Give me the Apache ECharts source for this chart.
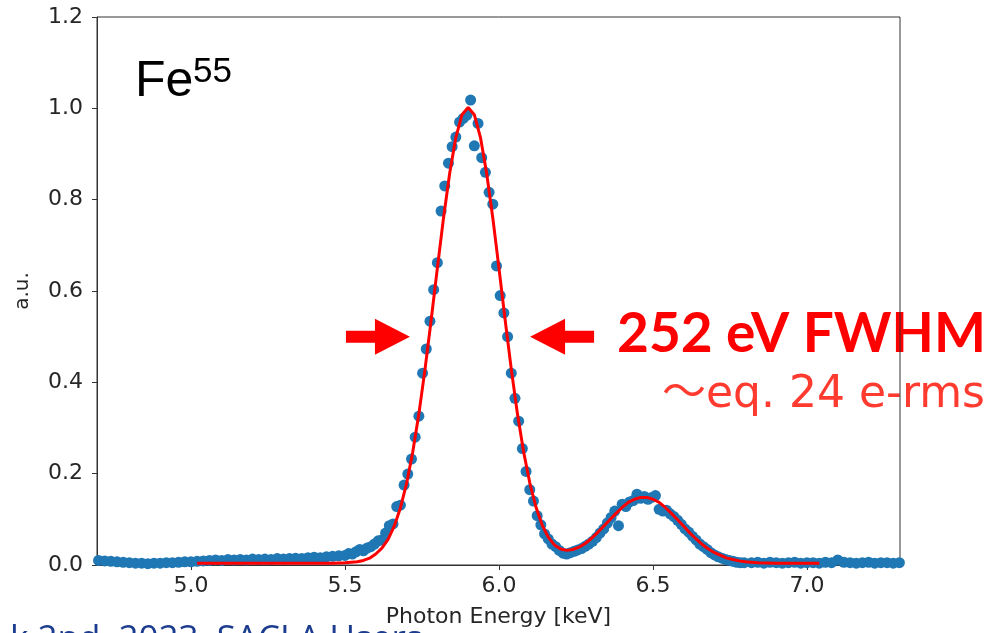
<!DOCTYPE html>
<html>
<head>
<meta charset="utf-8">
<script src="https://cdn.jsdelivr.net/npm/echarts@6/dist/echarts.min.js"></script>
<style>
  html, body { margin: 0; padding: 0; background: #ffffff; }
  #chart { width: 998px; height: 633px; }
</style>
</head>
<body>
<div id="chart"></div>
<script>
// Measured Fe-55 spectrum: photon energy [keV] and normalised counts [a.u.]
const measuredEnergy = [
  4.70, 4.72, 4.74, 4.76, 4.78, 4.80, 4.82, 4.84, 4.86, 4.88,
  4.90, 4.92, 4.94, 4.96, 4.98, 5.00, 5.02, 5.04, 5.06, 5.08,
  5.10, 5.12, 5.14, 5.16, 5.18, 5.20, 5.22, 5.24, 5.26, 5.28,
  5.30, 5.32, 5.34, 5.36, 5.38, 5.40, 5.42, 5.44, 5.46, 5.48,
  5.500, 5.512, 5.524, 5.536, 5.548, 5.560, 5.572, 5.584, 5.596, 5.608,
  5.620, 5.632, 5.644, 5.656, 5.668, 5.680, 5.692, 5.704, 5.716, 5.728,
  5.740, 5.752, 5.764, 5.776, 5.788, 5.800, 5.812, 5.824, 5.836, 5.848,
  5.860, 5.872, 5.884, 5.896, 5.908, 5.920, 5.932, 5.944, 5.956, 5.968,
  5.980, 5.992, 6.004, 6.016, 6.028, 6.040, 6.052, 6.064, 6.076, 6.088,
  6.100, 6.112, 6.124, 6.136, 6.148, 6.160, 6.172, 6.184, 6.196, 6.208,
  6.220, 6.232, 6.244, 6.256, 6.268, 6.280, 6.292, 6.304, 6.316, 6.328,
  6.340, 6.352, 6.364, 6.376, 6.388, 6.400, 6.412, 6.424, 6.436, 6.448,
  6.460, 6.472, 6.484, 6.496, 6.508, 6.520, 6.532, 6.544, 6.556, 6.568,
  6.580, 6.592, 6.604, 6.616, 6.628, 6.640, 6.652, 6.664, 6.676, 6.688,
  6.700, 6.712, 6.724, 6.736, 6.748, 6.760, 6.772, 6.784, 6.796,
  6.82, 6.84, 6.86, 6.88, 6.90, 6.92, 6.94, 6.96, 6.98, 7.00,
  7.02, 7.04, 7.06, 7.08, 7.10, 7.12, 7.14, 7.16, 7.18, 7.20,
  7.22, 7.24, 7.26, 7.28, 7.30
];
const measuredCounts = [
  0.010, 0.009, 0.008, 0.007, 0.006, 0.005, 0.004, 0.004, 0.003, 0.004,
  0.004, 0.005, 0.005, 0.006, 0.007, 0.007, 0.008, 0.009, 0.010, 0.011,
  0.010, 0.012, 0.011, 0.012, 0.011, 0.013, 0.012, 0.013, 0.012, 0.014,
  0.013, 0.014, 0.015, 0.014, 0.016, 0.017, 0.016, 0.018, 0.019, 0.020,
  0.021, 0.025, 0.024, 0.029, 0.034, 0.031, 0.037, 0.040, 0.046, 0.053,
  0.055, 0.070, 0.086, 0.090, 0.128, 0.131, 0.175, 0.199, 0.232, 0.280,
  0.326, 0.420, 0.473, 0.534, 0.603, 0.662, 0.775, 0.830, 0.880, 0.916,
  0.937, 0.970, 0.978, 0.985, 1.018, 0.918, 0.967, 0.892, 0.860, 0.816,
  0.790, 0.655, 0.590, 0.552, 0.500, 0.420, 0.365, 0.315, 0.255, 0.205,
  0.165, 0.140, 0.108, 0.088, 0.068, 0.057, 0.046, 0.040, 0.032, 0.026,
  0.024, 0.027, 0.030, 0.033, 0.036, 0.041, 0.046, 0.052, 0.060, 0.070,
  0.079, 0.092, 0.104, 0.118, 0.086, 0.133, 0.128, 0.138, 0.141, 0.155,
  0.146, 0.150, 0.144, 0.148, 0.152, 0.122, 0.118, 0.120, 0.112, 0.106,
  0.098, 0.089, 0.079, 0.072, 0.063, 0.055, 0.046, 0.040, 0.034, 0.027,
  0.022, 0.018, 0.015, 0.012, 0.010, 0.008, 0.006, 0.005, 0.005,
  0.005, 0.006, 0.004, 0.006, 0.005, 0.004, 0.005, 0.006, 0.004, 0.005,
  0.005, 0.004, 0.006, 0.005, 0.011, 0.006, 0.005, 0.004, 0.005, 0.006,
  0.004, 0.005, 0.005, 0.004, 0.005
];

// Two-Gaussian fit (Mn K-alpha + K-beta)
const fitEnergy = [
  5.02, 5.10, 5.20, 5.30, 5.40, 5.46,
  5.50, 5.52, 5.54, 5.56, 5.58, 5.60, 5.62, 5.64, 5.66, 5.68,
  5.70, 5.72, 5.74, 5.76, 5.78, 5.80, 5.82, 5.84, 5.86, 5.88,
  5.90, 5.92, 5.94, 5.96, 5.98, 6.00, 6.02, 6.04, 6.06, 6.08,
  6.10, 6.12, 6.14, 6.16, 6.18, 6.20, 6.22, 6.24, 6.26, 6.28,
  6.30, 6.32, 6.34, 6.36, 6.38, 6.40, 6.42, 6.44, 6.46, 6.48,
  6.50, 6.52, 6.54, 6.56, 6.58, 6.60, 6.62, 6.64, 6.66, 6.68,
  6.70, 6.72, 6.74, 6.76, 6.78, 6.80, 6.84, 6.90, 6.96, 7.04
];
const fitCounts = [
  0.004, 0.004, 0.004, 0.004, 0.004, 0.004,
  0.005, 0.006, 0.007, 0.010, 0.015, 0.024, 0.037, 0.056, 0.085, 0.125,
  0.178, 0.247, 0.331, 0.429, 0.537, 0.650, 0.760, 0.858, 0.936, 0.986,
  1.002, 0.986, 0.936, 0.858, 0.760, 0.650, 0.537, 0.429, 0.331, 0.248,
  0.180, 0.127, 0.088, 0.061, 0.044, 0.035, 0.032, 0.034, 0.039, 0.047,
  0.058, 0.071, 0.085, 0.099, 0.113, 0.126, 0.137, 0.144, 0.148, 0.148,
  0.144, 0.137, 0.126, 0.113, 0.099, 0.085, 0.070, 0.057, 0.045, 0.035,
  0.027, 0.021, 0.015, 0.012, 0.009, 0.007, 0.005, 0.004, 0.004, 0.004
];

const xTickValues = [5.0, 5.5, 6.0, 6.5, 7.0];
const yTickValues = [0.0, 0.2, 0.4, 0.6, 0.8, 1.0, 1.2];

// Half-maximum level and the energies where the FWHM arrows point
const halfMaximum = 0.5;
const fwhmArrowTips = [5.711, 6.101];

const chart = echarts.init(document.getElementById('chart'), null, { renderer: 'canvas' });

const axisColor = '#333333';
const labelColor = '#262626';
const tickFont = 'DejaVu Sans';

const option = {
  backgroundColor: '#ffffff',
  animation: false,
  grid: {
    left: 97, right: 98, top: 17, bottom: 66,
    show: true, borderColor: axisColor, borderWidth: 1,
    backgroundColor: 'transparent'
  },
  xAxis: {
    type: 'value',
    min: 4.695, max: 7.302,
    name: 'Photon Energy [keV]',
    nameLocation: 'middle',
    nameGap: 41,
    nameTextStyle: { fontFamily: tickFont, fontSize: 22, color: labelColor },
    axisLine: { show: true, onZero: false, lineStyle: { color: axisColor, width: 1 } },
    axisTick: { show: true, inside: false, length: 5, customValues: xTickValues,
                lineStyle: { color: axisColor, width: 1 } },
    axisLabel: { customValues: xTickValues, margin: 10, fontFamily: tickFont, fontSize: 22,
                 color: labelColor, formatter: v => v.toFixed(1) },
    splitLine: { show: false }
  },
  yAxis: {
    type: 'value',
    min: 0, max: 1.2, interval: 0.2,
    name: 'a.u.',
    nameLocation: 'middle',
    nameGap: 64,
    nameTextStyle: { fontFamily: tickFont, fontSize: 20, color: labelColor },
    axisLine: { show: true, onZero: false, lineStyle: { color: axisColor, width: 1 } },
    axisTick: { show: true, inside: false, length: 5, lineStyle: { color: axisColor, width: 1 } },
    axisLabel: { margin: 14, fontFamily: tickFont, fontSize: 22, color: labelColor,
                 formatter: v => v.toFixed(1) },
    splitLine: { show: false }
  },
  series: [
    {
      name: 'data',
      type: 'scatter',
      data: measuredEnergy.map((e, i) => [e, measuredCounts[i]]),
      symbol: 'circle',
      symbolSize: 11,
      itemStyle: { color: '#1f77b4', opacity: 1 },
      z: 2
    },
    {
      name: 'fit',
      type: 'line',
      data: fitEnergy.map((e, i) => [e, fitCounts[i]]),
      showSymbol: false,
      symbol: 'none',
      smooth: false,
      lineStyle: { color: '#ff0000', width: 3 },
      z: 3
    }
  ]
};
chart.setOption(option);

// Annotations: isotope label, FWHM arrows and resolution text
function arrowPoints(tip, dir) {
  const [tx, ty] = tip;
  const s = dir; // +1 points right, -1 points left
  return [
    [tx - s * 64, ty - 6], [tx - s * 35, ty - 6], [tx - s * 35, ty - 18],
    [tx, ty], [tx - s * 35, ty + 18], [tx - s * 35, ty + 6], [tx - s * 64, ty + 6]
  ];
}
const leftTip = chart.convertToPixel({ gridIndex: 0 }, [fwhmArrowTips[0], halfMaximum]);
const rightTip = chart.convertToPixel({ gridIndex: 0 }, [fwhmArrowTips[1], halfMaximum]);

chart.setOption({
  graphic: [
    { type: 'text', z: 10, style: { text: 'Fe', x: 135, y: 82, verticalAlign: 'middle',
        font: '50px "Liberation Sans"', fill: '#000000' } },
    { type: 'text', z: 10, style: { text: '55', x: 193, y: 72, verticalAlign: 'middle',
        font: '35px "Liberation Sans"', fill: '#000000' } },
    { type: 'polygon', z: 10, shape: { points: arrowPoints(leftTip, 1) }, style: { fill: '#ff0000' } },
    { type: 'polygon', z: 10, shape: { points: arrowPoints(rightTip, -1) }, style: { fill: '#ff0000' } },
    { type: 'text', z: -1, style: { text: '252 eV FWHM', x: 617, y: 334, verticalAlign: 'middle',
        font: 'bold 55px Lato', fill: '#ff0000' } },
    { type: 'text', z: -1, style: { text: '～eq. 24 e-rms', x: 662, y: 396, verticalAlign: 'middle',
        font: '44px "DejaVu Sans", "Noto Sans CJK JP"', fill: '#ff3b30' } },
    { type: 'text', z: 10, style: { text: 'k 2nd, 2023, SACLA Users', x: 10, y: 640, verticalAlign: 'middle',
        font: '35px "Open Sans"', fill: '#1c3d8f' } }
  ]
});
</script>
</body>
</html>
